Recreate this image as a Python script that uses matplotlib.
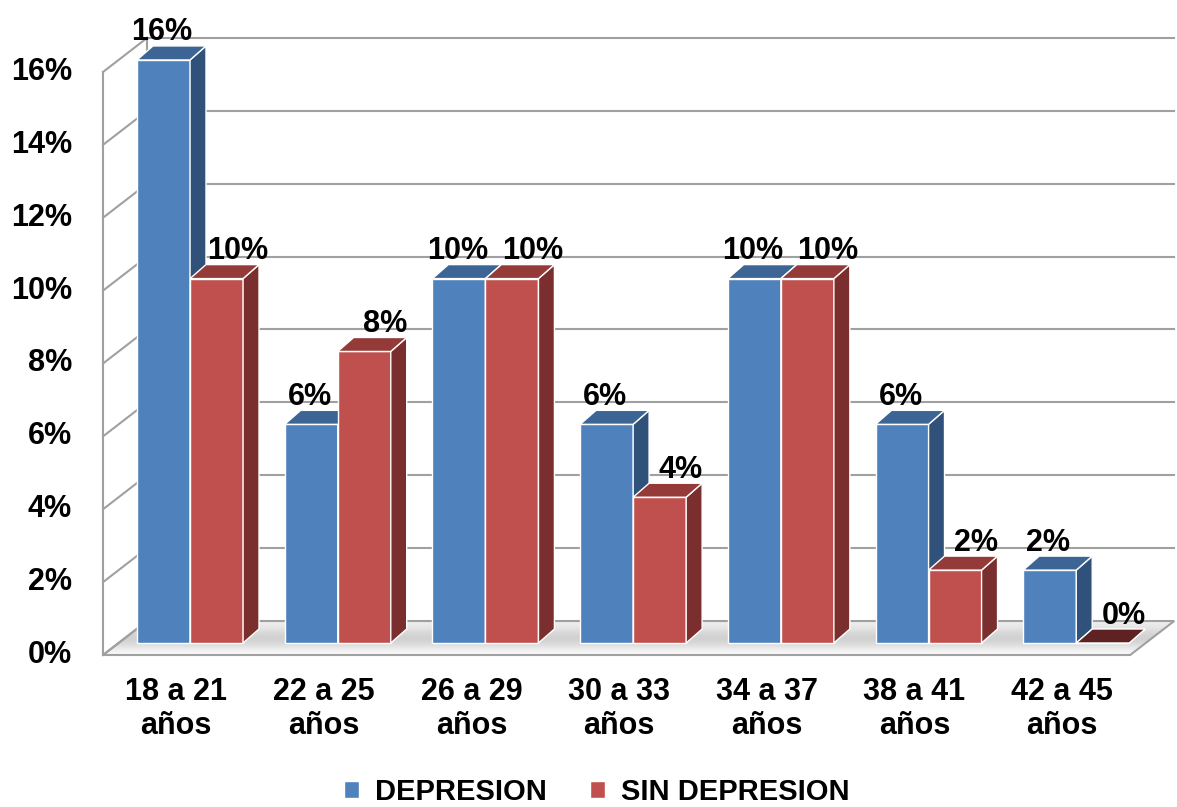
import numpy as np
import matplotlib
matplotlib.use("Agg")
import matplotlib.pyplot as plt
from matplotlib.patches import Polygon, Rectangle, Patch

plt.rcParams['font.family'] = ['Liberation Sans', 'DejaVu Sans']
plt.rcParams['font.weight'] = 'bold'

# datos
categorias = ["18 a 21\naños", "22 a 25\naños", "26 a 29\naños", "30 a 33\naños",
              "34 a 37\naños", "38 a 41\naños", "42 a 45\naños"]
depresion = [16, 6, 10, 6, 10, 6, 2]
sin_depresion = [10, 8, 10, 4, 10, 2, 0]
series = ["DEPRESION", "SIN DEPRESION"]
ticks_y = [0, 2, 4, 6, 8, 10, 12, 14, 16]

# colores: frente, tapa, lateral
azul = ("#4F81BD", "#3C6595", "#30527A")
rojo = ("#C0504D", "#943B39", "#7A2E2D")

# geometría de la perspectiva (unidades de datos)
ancho = 0.359          # ancho de cada barra
wx, wy = 0.298, 0.933  # profundidad de pared/suelo
bx, by = 0.095, 0.33   # retroceso de las barras
dx, dy = 0.108, 0.384  # profundidad de las barras
x_izq, x_der = -0.494, 6.46

fig = plt.figure(figsize=(11.77, 8.07), dpi=100)
ax = fig.add_axes([0, 0, 1, 1])
ax.set_xlim(-1.1916, 6.777)
ax.set_ylim(-4.171, 17.975)
ax.axis('off')

gris = "#A0A0A0"

# suelo con degradado
suelo = Polygon([(x_izq, 0), (x_der, 0), (x_der + wx, wy), (x_izq + wx, wy)],
                closed=True, facecolor='none', edgecolor=gris, lw=1.5, zorder=2)
ax.add_patch(suelo)
grad = np.array([[0.97], [0.86], [0.80], [0.86], [0.93]])
img = ax.imshow(grad, cmap='gray', vmin=0, vmax=1, aspect='auto',
                extent=(x_izq, x_der + wx, 0, wy), origin='lower', zorder=1,
                interpolation='bicubic')
img.set_clip_path(suelo)

# pared lateral y fondo
for v in ticks_y:
    ax.plot([x_izq, x_izq + wx], [v, v + wy], color=gris, lw=1.5, zorder=1)
    if v > 0:
        ax.plot([x_izq + wx, x_der + wx], [v + wy, v + wy], color=gris, lw=1.5, zorder=1)
ax.plot([x_izq, x_izq], [0, 16], color=gris, lw=1.5, zorder=1)
ax.plot([x_izq + wx, x_izq + wx], [wy, 16 + wy], color=gris, lw=1.5, zorder=1)

# etiquetas del eje y
for v in ticks_y:
    ax.text(-0.704, v, f"{v}%", ha='right', va='center', fontsize=22, fontweight='bold')


def barra(x0, valor, colores, desplaz):
    x0 = x0 + bx
    yb = by
    yt = by + valor
    frente, tapa, lado = colores
    if valor == 0:
        tapa = "#5E2222"
    ax.add_patch(Rectangle((x0, yb), ancho, valor, facecolor=frente,
                           edgecolor='white', lw=1, zorder=3))
    ax.add_patch(Polygon([(x0 + ancho, yb), (x0 + ancho + dx, yb + dy),
                          (x0 + ancho + dx, yt + dy), (x0 + ancho, yt)],
                         closed=True, facecolor=lado, edgecolor='white', lw=1, zorder=3))
    ax.add_patch(Polygon([(x0, yt), (x0 + ancho, yt), (x0 + ancho + dx, yt + dy),
                          (x0 + dx, yt + dy)],
                         closed=True, facecolor=tapa, edgecolor='white', lw=1, zorder=3))
    ax.text(x0 + ancho / 2 + desplaz, yt + dy + 0.15, f"{valor}%", ha='center',
            va='baseline', fontsize=22, fontweight='bold', zorder=4)


for i in range(len(categorias)):
    barra(i - ancho, depresion[i], azul, -0.01)
    barra(i, sin_depresion[i], rojo, 0.14)
    ax.text(i, -1.48, categorias[i], ha='center', va='center', fontsize=22,
            fontweight='bold', linespacing=1.15)

handles = [Patch(facecolor=azul[0], edgecolor='white'),
           Patch(facecolor=rojo[0], edgecolor='white')]
fig.legend(handles, series, loc='center', bbox_to_anchor=(0.507, 0.019), ncol=2,
           frameon=False, prop={'size': 21, 'weight': 'bold'},
           handlelength=0.5, handleheight=0.5, handletextpad=0.55, columnspacing=1.5)

fig.savefig("out.png", dpi=100)
